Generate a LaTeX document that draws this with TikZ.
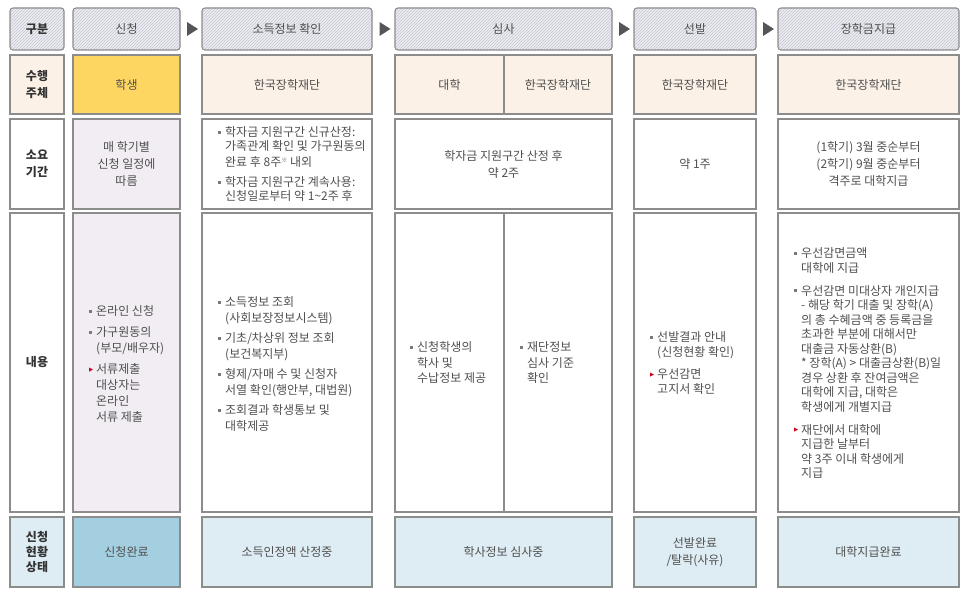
\documentclass[tikz,border=0pt]{standalone}
\usepackage{fontspec}
\setmainfont{Noto Sans CJK KR}
\newfontfamily\symfont{DejaVu Sans}
\usetikzlibrary{patterns}
\usetikzlibrary{calc}
\definecolor{bordc}{HTML}{8C8C8C}
\definecolor{hdrbg}{HTML}{EDEEF2}
\definecolor{hatchc}{HTML}{C3C6D1}
\definecolor{cream}{HTML}{FBF1E6}
\definecolor{yellowc}{HTML}{FDD662}
\definecolor{lavc}{HTML}{F1EDF3}
\definecolor{lblue}{HTML}{DEEDF3}
\definecolor{blue}{HTML}{A4CFE0}
\definecolor{txtc}{HTML}{505050}
\definecolor{lblc}{HTML}{333333}
\definecolor{bulc}{HTML}{7A7A7A}
\definecolor{redc}{HTML}{D0021B}
\definecolor{arrc}{HTML}{555555}
\newcommand{\sqb}{\makebox[7pt][l]{\textcolor{bulc}{\rule[3pt]{3pt}{3pt}}}}
\newcommand{\trb}{\makebox[7pt][l]{\raisebox{2.2pt}{\textcolor{redc}{\symfont\fontsize{5.5}{6}\selectfont ▶}}}}
\newcommand{\ind}{\makebox[7pt]{}}

\begin{document}
\begin{tikzpicture}[x=1pt, y=-1pt,
  every node/.style={font=\fontsize{12}{17}\selectfont, text=txtc},
  hdr/.style={draw=bordc, line width=1.1pt, rounded corners=3pt, preaction={fill=hdrbg},
    pattern=north east lines, pattern color=hatchc, minimum height=42, inner sep=0pt},
  cell/.style={draw=bordc, line width=1.1pt, inner sep=0pt, align=center},
  lbl/.style={font=\fontsize{12}{17}\selectfont\bfseries, text=lblc},
  note/.style={anchor=north west, align=left, inner sep=0pt}]
  \useasboundingbox (0,0) rectangle (968,593);

  % naglowek
  \node [hdr, lbl, minimum width=54] (h0) at (37,29) {구분};
  \node [hdr, minimum width=107] (h1) at (126.5,29) {신청};
  \node [hdr, minimum width=170] (h2) at (287,29) {소득정보 확인};
  \node [hdr, minimum width=217] (h3) at (503.5,29) {심사};
  \node [hdr, minimum width=122] (h4) at (695,29) {선발};
  \node [hdr, minimum width=181] (h5) at (868.5,29) {장학금지급};

  \fill [arrc] ($(h1.east)!.5!(h2.west)$) +(-4,-7) -- +(7,0) -- +(-4,7) -- cycle;
  \fill [arrc] ($(h2.east)!.5!(h3.west)$) +(-4,-7) -- +(7,0) -- +(-4,7) -- cycle;
  \fill [arrc] ($(h3.east)!.5!(h4.west)$) +(-4,-7) -- +(7,0) -- +(-4,7) -- cycle;
  \fill [arrc] ($(h4.east)!.5!(h5.west)$) +(-4,-7) -- +(7,0) -- +(-4,7) -- cycle;

  % wiersz 2
  \node [cell, lbl, fill=cream, minimum width=54, minimum height=59] (r2c0) at (37,84.5) {수행\\주체};
  \node [cell, fill=yellowc, minimum width=107, minimum height=59] (r2c1) at (126.5,84.5) {학생};
  \node [cell, fill=cream, minimum width=170, minimum height=59] (r2c2) at (287,84.5) {한국장학재단};
  \node [cell, fill=cream, minimum width=109, minimum height=59] (r2c3a) at (449.5,84.5) {대학};
  \node [cell, fill=cream, minimum width=108, minimum height=59] (r2c3b) at (558,84.5) {한국장학재단};
  \node [cell, fill=cream, minimum width=122, minimum height=59] (r2c4) at (695,84.5) {한국장학재단};
  \node [cell, fill=cream, minimum width=181, minimum height=59] (r2c5) at (868.5,84.5) {한국장학재단};

  % wiersz 3
  \node [cell, lbl, fill=white, minimum width=54, minimum height=90] (r3c0) at (37,164) {소요\\기간};
  \node [cell, fill=lavc, minimum width=107, minimum height=90] (r3c1) at (126.5,164) {매 학기별\\신청 일정에\\따름};
  \node [cell, fill=white, minimum width=170, minimum height=90] (r3c2) at (287,164) {};
  \node [cell, fill=white, minimum width=217, minimum height=90] (r3c3) at (503.5,164) {학자금 지원구간 산정 후\\약 2주};
  \node [cell, fill=white, minimum width=122, minimum height=90] (r3c4) at (695,164) {약 1주};
  \node [cell, fill=white, minimum width=181, minimum height=90] (r3c5) at (868.5,164) {(1학기) 3월 중순부터\\(2학기) 9월 중순부터\\격주로 대학지급};

  \node [note, font=\fontsize{12}{14}\selectfont] (t3c2) at (218,126.5) {\sqb 학자금 지원구간 신규산정:\\
    \ind 가족관계 확인 및 가구원동의\\[2pt]
    \ind 완료 후 8주\raisebox{4.5pt}{\fontsize{6}{6}\selectfont ※} 내외\\[6pt]
    \sqb 학자금 지원구간 계속사용:\\
    \ind 신청일로부터 약 1\textasciitilde2주 후};

  % wiersz 4
  \node [cell, lbl, fill=white, minimum width=54, minimum height=299] (r4c0) at (37,362.5) {내용};
  \node [cell, fill=lavc, minimum width=107, minimum height=299] (r4c1) at (126.5,362.5) {};
  \node [cell, fill=white, minimum width=170, minimum height=299] (r4c2) at (287,362.5) {};
  \node [cell, fill=white, minimum width=109, minimum height=299] (r4c3a) at (449.5,362.5) {};
  \node [cell, fill=white, minimum width=108, minimum height=299] (r4c3b) at (558,362.5) {};
  \node [cell, fill=white, minimum width=122, minimum height=299] (r4c4) at (695,362.5) {};
  \node [cell, fill=white, minimum width=181, minimum height=299] (r4c5) at (868.5,362.5) {};

  \node [note, font=\fontsize{12}{16}\selectfont] (t4c1) at (89,305.5) {\sqb 온라인 신청\\[5pt]
    \sqb 가구원동의\\ \ind (부모/배우자)\\[5pt]
    \trb 서류제출\\ \ind 대상자는\\ \ind 온라인\\ \ind 서류 제출};
  \node [note, font=\fontsize{12}{15.5}\selectfont] (t4c2) at (218,296.5) {\sqb 소득정보 조회\\ \ind (사회보장정보시스템)\\[5pt]
    \sqb 기초/차상위 정보 조회\\ \ind (보건복지부)\\[5pt]
    \sqb 형제/자매 수 및 신청자\\ \ind 서열 확인(행안부, 대법원)\\[5pt]
    \sqb 조회결과 학생통보 및\\ \ind 대학제공};
  \node [note, font=\fontsize{12}{15.5}\selectfont] (t4c3a) at (410,341.5) {\sqb 신청학생의\\ \ind 학사 및\\ \ind 수납정보 제공};
  \node [note, font=\fontsize{12}{15.5}\selectfont] (t4c3b) at (520,341.5) {\sqb 재단정보\\ \ind 심사 기준\\ \ind 확인};
  \node [note, font=\fontsize{12}{15}\selectfont] (t4c4) at (650,331.5) {\sqb 선발결과 안내\\ \ind (신청현황 확인)\\[7pt]
    \trb 우선감면\\ \ind 고지서 확인};
  \node [note, font=\fontsize{12}{14.5}\selectfont] (t4c5) at (794,247.5) {\sqb 우선감면금액\\ \ind 대학에 지급\\[8.5pt]
    \sqb 우선감면 미대상자 개인지급\\ \ind - 해당 학기 대출 및 장학(A)\\ \ind 의 총 수혜금액 중 등록금을\\
    \ind 초과한 부분에 대해서만\\ \ind 대출금 자동상환(B)\\ \ind * 장학(A) > 대출금상환(B)일\\
    \ind 경우 상환 후 잔여금액은\\ \ind 대학에 지급, 대학은\\ \ind 학생에게 개별지급\\[8.5pt]
    \trb 재단에서 대학에\\ \ind 지급한 날부터\\ \ind 약 3주 이내 학생에게\\ \ind 지급};

  % wiersz 5
  \node [cell, lbl, fill=lblue, minimum width=54, minimum height=70, font=\fontsize{12}{15}\selectfont\bfseries] (r5c0) at (37,552) {신청\\현황\\상태};
  \node [cell, fill=blue, minimum width=107, minimum height=70] (r5c1) at (126.5,552) {신청완료};
  \node [cell, fill=lblue, minimum width=170, minimum height=70] (r5c2) at (287,552) {소득인정액 산정중};
  \node [cell, fill=lblue, minimum width=217, minimum height=70] (r5c3) at (503.5,552) {학사정보 심사중};
  \node [cell, fill=lblue, minimum width=122, minimum height=70] (r5c4) at (695,552) {선발완료\\/탈락(사유)};
  \node [cell, fill=lblue, minimum width=181, minimum height=70] (r5c5) at (868.5,552) {대학지급완료};
\end{tikzpicture}
\end{document}
